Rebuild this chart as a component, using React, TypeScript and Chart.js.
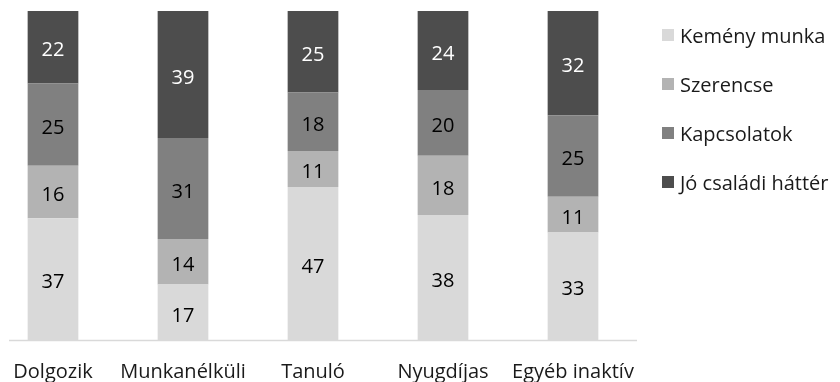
import React, { useEffect, useRef } from "react";
import { Chart, registerables } from "chart.js";

Chart.register(...registerables);

const categories = ["Dolgozik", "Munkanélküli", "Tanuló", "Nyugdíjas", "Egyéb inaktív"];
const seriesNames = ["Kemény munka", "Szerencse", "Kapcsolatok", "Jó családi háttér"];
const kemenyMunka = [37, 17, 47, 38, 33];
const szerencse = [16, 14, 11, 18, 11];
const kapcsolatok = [25, 31, 18, 20, 25];
const csaladiHatter = [22, 39, 25, 24, 32];
const seriesValues = [kemenyMunka, szerencse, kapcsolatok, csaladiHatter];
const colors = ["#d9d9d9", "#b3b3b3", "#808080", "#4d4d4d"];
const labelColors = ["#000000", "#000000", "#000000", "#ffffff"];

const FONT = "'Open Sans', 'Noto Sans', sans-serif";

export default function App() {
  const ref = useRef<HTMLCanvasElement | null>(null);

  useEffect(() => {
    if (!ref.current) return;
    const totals = categories.map((_, i) =>
      seriesValues.reduce((s, arr) => s + arr[i], 0)
    );
    const datasets = seriesNames.map((name, si) => ({
      label: name,
      data: seriesValues[si].map((v, i) => (v / totals[i]) * 100),
      raw: seriesValues[si],
      backgroundColor: colors[si],
      borderWidth: 0,
      categoryPercentage: 1,
      barPercentage: 0.39,
    }));

    const overlay = {
      id: "overlay",
      afterDatasetsDraw(chart: any) {
        const ctx = chart.ctx;
        const area = chart.chartArea;
        ctx.save();
        // axis line
        ctx.strokeStyle = "#d9d9d9";
        ctx.lineWidth = 1.5;
        ctx.beginPath();
        ctx.moveTo(area.left + 21, area.bottom + 0.5);
        ctx.lineTo(area.right - 1, area.bottom + 0.5);
        ctx.stroke();
        // value labels
        ctx.font = `20px ${FONT}`;
        ctx.textAlign = "center";
        ctx.textBaseline = "middle";
        chart.data.datasets.forEach((ds: any, di: number) => {
          const meta = chart.getDatasetMeta(di);
          meta.data.forEach((bar: any, i: number) => {
            const top = Math.min(bar.y, bar.base);
            const bot = Math.max(bar.y, bar.base);
            ctx.fillStyle = labelColors[di];
            ctx.fillText(String(ds.raw[i]), bar.x, (top + bot) / 2 + 3.5);
          });
        });
        // legend
        const lx = area.right + 24;
        const ly0 = 35;
        const step = 49;
        seriesNames.forEach((name, si) => {
          const cy = ly0 + step * si;
          ctx.fillStyle = colors[si];
          ctx.fillRect(lx, cy - 6, 12, 12);
          ctx.fillStyle = "#1a1a1a";
          ctx.textAlign = "left";
          ctx.fillText(name, lx + 18, cy + 2);
        });
        ctx.restore();
      },
    };

    const chart = new Chart(ref.current, {
      type: "bar",
      data: { labels: categories, datasets: datasets as any },
      options: {
        animation: false,
        responsive: false,
        maintainAspectRatio: false,
        layout: { padding: { top: 11, left: 18, right: 202, bottom: 0 } },
        plugins: { legend: { display: false }, tooltip: { enabled: false } },
        scales: {
          x: {
            stacked: true,
            grid: { display: false, drawTicks: false },
            border: { display: false },
            afterFit: (scale: any) => {
              scale.height = 42;
            },
            ticks: {
              padding: 20,
              color: "#1a1a1a",
              font: { size: 20, family: FONT },
              maxRotation: 0,
              autoSkip: false,
            },
          },
          y: {
            stacked: true,
            display: false,
            min: 0,
            max: 100,
          },
        },
      },
      plugins: [overlay],
    });
    return () => chart.destroy();
  }, []);

  return (
    <div style={{ position: "absolute", left: -30, top: 0, width: 870, height: 382 }}>
      <canvas ref={ref} width={870} height={382} style={{ width: 870, height: 382 }} />
    </div>
  );
}
